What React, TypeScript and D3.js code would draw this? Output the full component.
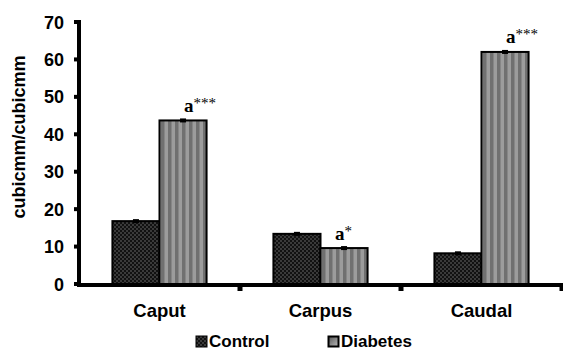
import React from "react";
import * as d3 from "d3";

const categories = ["Caput", "Carpus", "Caudal"];
const series = ["Control", "Diabetes"];
const controlValues = [16.8, 13.4, 8.2];
const diabetesValues = [43.7, 9.6, 62.0];
const controlErrors = [0.2, 0.4, 0.2];
const diabetesErrors = [0.5, 0.4, 0.5];
const marks = ["a***", "a*", "a***"];
const yTicks = [0, 10, 20, 30, 40, 50, 60, 70];

const W = 563;
const H = 350;

export default function App() {
  const x0 = d3.scaleBand().domain(categories).range([79, 562]).padding(0);
  const x1 = d3
    .scaleBand()
    .domain(series)
    .range([0, x0.bandwidth()])
    .paddingInner(0)
    .paddingOuter(0.71);
  const y = d3.scaleLinear().domain([0, 70]).range([284, 22]);

  const values: Record<string, number[]> = { Control: controlValues, Diabetes: diabetesValues };
  const errors: Record<string, number[]> = { Control: controlErrors, Diabetes: diabetesErrors };
  const fills: Record<string, string> = { Control: "url(#checker)", Diabetes: "url(#stripes)" };

  const font = "'Liberation Sans', Arial, sans-serif";

  return (
    <svg width={W} height={H} style={{ position: "absolute", left: 0, top: 0, background: "#fff" }}>
      <defs>
        <pattern id="checker" width="4" height="4" patternUnits="userSpaceOnUse">
          <rect width="4" height="4" fill="#111" />
          <rect width="2" height="2" fill="#3a3a3a" />
          <rect x="2" y="2" width="2" height="2" fill="#3a3a3a" />
        </pattern>
        <pattern id="stripes" width="7" height="7" patternUnits="userSpaceOnUse">
          <rect width="7" height="7" fill="#9c9c9c" />
          <rect width="3.5" height="7" fill="#707070" />
        </pattern>
        <linearGradient id="legGrad" x1="0" x2="1" y1="0" y2="1">
          <stop offset="0" stopColor="#555" />
          <stop offset="1" stopColor="#bbb" />
        </linearGradient>
      </defs>

      {/* bars */}
      {categories.map((c, i) =>
        series.map((s) => {
          const v = values[s][i];
          const bx = (x0(c) as number) + (x1(s) as number);
          const bw = x1.bandwidth();
          return (
            <rect
              key={c + s}
              x={bx}
              y={y(v)}
              width={bw}
              height={y(0) - y(v)}
              fill={fills[s]}
              stroke="#000"
              strokeWidth={2}
            />
          );
        })
      )}

      {/* error caps */}
      {categories.map((c, i) =>
        series.map((s) => {
          const v = values[s][i];
          const e = errors[s][i];
          const cx = (x0(c) as number) + (x1(s) as number) + x1.bandwidth() / 2;
          const top = y(v + e);
          const h = Math.max(y(v - e) - top, 4);
          return <rect key={"e" + c + s} x={cx - 3} y={y(v) - h / 2} width={6} height={h} fill="#000" />;
        })
      )}

      {/* significance marks */}
      {categories.map((c, i) => {
        const v = diabetesValues[i] + diabetesErrors[i];
        const cx = (x0(c) as number) + (x1("Diabetes") as number) + x1.bandwidth() / 2;
        const m = marks[i];
        return (
          <text
            key={"m" + c}
            x={m.length > 2 ? cx + 1 : cx - 9}
            y={y(v) - 7}
            fontFamily="'Liberation Serif', 'Times New Roman', serif"
            fontWeight="bold"
            fontSize={19}
          >
            a
            <tspan fontSize={15} dy={-4} fontWeight="normal">
              {m.slice(1)}
            </tspan>
          </text>
        );
      })}

      {/* x axis */}
      <line x1={79} x2={563} y1={y(0) + 1} y2={y(0) + 1} stroke="#000" strokeWidth={4} />
      {categories.map((c) => (
        <rect key={"xt" + c} x={(x0(c) as number) + x0.bandwidth() - 2.5} y={y(0)} width={5} height={7} fill="#000" />
      ))}
      {categories.map((c) => (
        <text
          key={"xl" + c}
          x={(x0(c) as number) + x0.bandwidth() / 2}
          y={317}
          textAnchor="middle"
          fontFamily={font}
          fontWeight="bold"
          fontSize={18.5}
        >
          {c}
        </text>
      ))}

      {/* y axis */}
      <line x1={79} x2={79} y1={20} y2={y(0) + 3} stroke="#000" strokeWidth={4} />
      {yTicks.map((t) => (
        <g key={"yt" + t}>
          <rect x={74} y={y(t) - 2} width={5} height={4} fill="#000" />
          <text
            x={64}
            y={y(t) + 6.5}
            textAnchor="end"
            fontFamily={font}
            fontWeight="bold"
            fontSize={18}
          >
            {t}
          </text>
        </g>
      ))}
      <text
        transform={`translate(25,${137}) rotate(-90)`}
        textAnchor="middle"
        fontFamily={font}
        fontWeight="bold"
        fontSize={18}
      >
        cubicmm/cubicmm
      </text>

      {/* legend */}
      <rect x={196} y={336} width={11} height={11} fill="url(#checker)" stroke="#000" strokeWidth={1} />
      <text x={209} y={347} fontFamily={font} fontWeight="bold" fontSize={17}>
        Control
      </text>
      <rect x={328.5} y={336.5} width={10} height={10} fill="url(#legGrad)" stroke="#000" strokeWidth={2} />
      <text x={341} y={347} fontFamily={font} fontWeight="bold" fontSize={17}>
        Diabetes
      </text>
    </svg>
  );
}
